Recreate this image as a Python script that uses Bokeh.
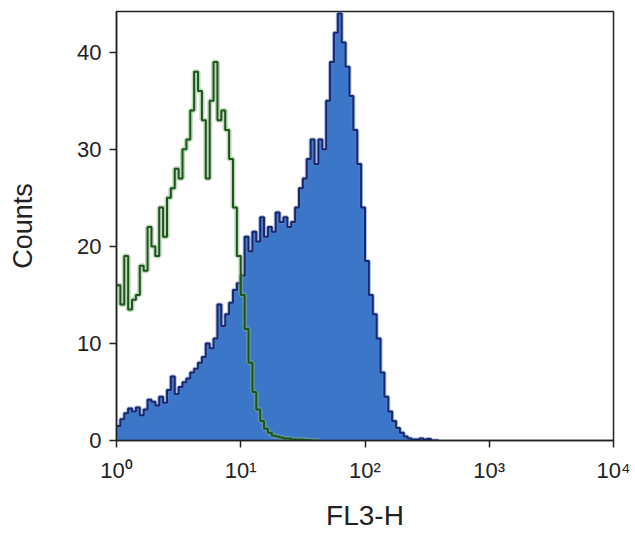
import numpy as np
from bokeh.plotting import figure
from bokeh.models import FixedTicker
from bokeh.embed import file_html
from bokeh.resources import INLINE

# ---- data ----
bins_per_decade = 32
control_counts = [16, 14, 19, 13.5, 14.5, 15, 18, 17.5, 22, 20, 19, 24, 21, 25, 26, 28,
                  27, 30, 31, 34, 38, 36, 33, 27, 35, 39, 33, 34, 32, 29, 24, 19,
                  15, 11.5, 8, 5, 3.2, 2, 1.2, 0.8, 0.5, 0.4, 0.3, 0.2, 0.2, 0.1, 0.1, 0.1,
                  0.05, 0.05, 0, 0]
stained_counts = [1.5, 2.2, 2.8, 3.3, 3.0, 3.4, 2.6, 3.2, 4.2, 4.0, 3.6, 4.5, 3.9, 5.2, 6.6, 4.8,
                  5.5, 6.0, 6.4, 7.0, 7.4, 8.0, 8.6, 10.0, 9.5, 10.5, 14.0, 11.8, 13.0, 14.2, 15.5, 16.2,
                  17.0, 21.0, 19.5, 21.5, 20.5, 23.0, 21.0, 22.0, 21.5, 23.5, 22.5, 23.0, 22.0, 22.5, 24.0, 26.0,
                  27.0, 29.0, 31.0, 28.5, 31.0, 30.0, 35.0, 39.0, 42.0, 44.0, 41.0, 38.5, 35.5, 32.0, 28.5, 24.0,
                  18.5, 15.0, 13.0, 10.5, 7.0, 4.5, 3.0, 2.0, 1.3, 0.8, 0.4, 0.2, 0.1, 0.1, 0.2, 0.1,
                  0.15, 0, 0]
x_ticks = [1, 10, 100, 1000, 10000]
x_tick_labels = ["10\u2070", "10\u00b9", "10\u00b2", "10\u00b3", "10\u2074"]
y_ticks = [0, 10, 20, 30, 40]


def steps(counts):
    n = len(counts)
    edges = 10.0 ** (np.arange(n + 1) / bins_per_decade)
    xs = np.repeat(edges, 2)[1:-1]
    ys = np.repeat(np.asarray(counts, dtype=float), 2)
    return xs, ys


p = figure(width=635, height=535, x_axis_type="log",
           x_range=(1, 10000), y_range=(0, 44.2),
           output_backend="svg", toolbar_location=None,
           min_border_left=116, min_border_right=22,
           min_border_top=11, min_border_bottom=95)

# stained sample (filled blue)
sx, sy = steps(stained_counts)
p.varea(x=sx, y1=0, y2=sy, fill_color="#3c76c8", fill_alpha=1.0)
p.line(sx, sy, line_color="#5a7fc0", line_width=4, line_alpha=0.5)
p.line(sx, sy, line_color="#13226a", line_width=2.0, line_alpha=0.95)

# control (green outline)
cx, cy = steps(control_counts)
p.line(cx, cy, line_color="#7fb377", line_width=5, line_alpha=0.5)
p.line(cx, cy, line_color="#1d541d", line_width=2.0)

# axes styling
p.xgrid.visible = False
p.ygrid.visible = False
p.outline_line_color = "#222222"
p.outline_line_width = 1.5

for ax in (p.xaxis[0], p.yaxis[0]):
    ax.axis_line_color = "#222222"
    ax.axis_line_width = 1.5
    ax.major_tick_line_color = "#222222"
    ax.major_tick_line_width = 1.5
    ax.major_tick_in = 0
    ax.major_tick_out = 7
    ax.minor_tick_line_color = None
    ax.major_label_text_font = "Liberation Sans"
    ax.major_label_text_font_size = "22px"
    ax.major_label_text_color = "#222222"
    ax.axis_label_text_font = "Liberation Sans"
    ax.axis_label_text_font_style = "normal"
    ax.axis_label_text_color = "#222222"

p.xaxis.ticker = FixedTicker(ticks=x_ticks)
p.xaxis.major_label_overrides = {t: lab for t, lab in zip(x_ticks, x_tick_labels)}
p.yaxis.ticker = FixedTicker(ticks=y_ticks)

p.xaxis.axis_label = "FL3-H"
p.xaxis.axis_label_text_font_size = "28px"
p.xaxis.major_label_standoff = 10
p.xaxis.axis_label_standoff = 14

p.yaxis.axis_label = "Counts"
p.yaxis.axis_label_text_font_size = "27px"
p.yaxis.major_label_standoff = 8
p.yaxis.axis_label_standoff = 36

open("out.html", "w").write(file_html(p, INLINE))
